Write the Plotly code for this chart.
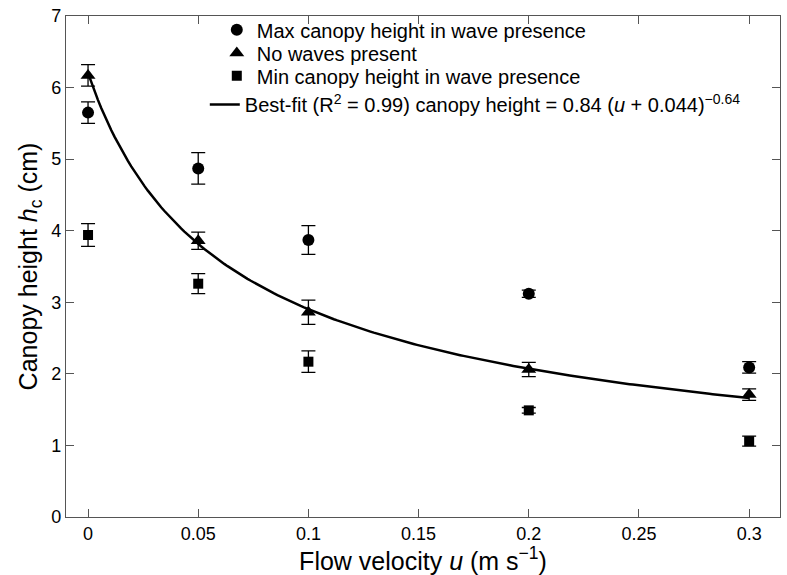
import numpy as np
import plotly.graph_objects as go

u = [0, 0.05, 0.1, 0.2, 0.3]
max_h = [5.65, 4.87, 3.87, 3.12, 2.09]
max_err = [0.15, 0.22, 0.20, 0.05, 0.08]
nowave_h = [6.17, 3.86, 2.86, 2.06, 1.71]
nowave_err = [0.15, 0.12, 0.17, 0.10, 0.08]
min_h = [3.94, 3.26, 2.17, 1.49, 1.06]
min_err = [0.16, 0.14, 0.15, 0.04, 0.07]

# best-fit parameters stated in legend: h = a (u + b)^c
fit_a, fit_b, fit_c = 0.84, 0.044, -0.64
u_fit = np.linspace(0, 0.3, 200)
h_fit = fit_a * (u_fit + fit_b) ** fit_c

xticks = [0, 0.05, 0.1, 0.15, 0.2, 0.25, 0.3]
xticklabels = ["0", "0.05", "0.1", "0.15", "0.2", "0.25", "0.3"]
yticks = [0, 1, 2, 3, 4, 5, 6, 7]

FONT = "Liberation Sans, Arial, sans-serif"
LEG_FONT = dict(family=FONT, size=20, color="black")

def err(e):
    return dict(type="data", array=e, visible=True, color="black", thickness=1.3, width=7)

fig = go.Figure()
fig.add_trace(go.Scatter(x=u, y=max_h, mode="markers", name="Max canopy height in wave presence",
                         marker=dict(symbol="circle", size=12, color="black"), error_y=err(max_err),
                         legend="legend"))
fig.add_trace(go.Scatter(x=u, y=nowave_h, mode="markers", name="No waves present",
                         marker=dict(symbol="triangle-up", size=13, color="black"), error_y=err(nowave_err),
                         legend="legend2"))
fig.add_trace(go.Scatter(x=u, y=min_h, mode="markers", name="Min canopy height in wave presence",
                         marker=dict(symbol="square", size=10, color="black"), error_y=err(min_err),
                         legend="legend3"))
fig.add_trace(go.Scatter(x=u_fit, y=h_fit, mode="lines",
                         name="Best-fit (R<sup>2</sup> = 0.99) canopy height = 0.84 (<i>u</i> + 0.044)<sup>\u22120.64</sup>",
                         line=dict(color="black", width=2.5), legend="legend4"))

axis_common = dict(showline=True, linecolor="#555555", linewidth=1.2, mirror="ticks",
                   ticks="inside", ticklen=8, tickcolor="#555555", tickwidth=1,
                   showgrid=False, zeroline=False,
                   tickfont=dict(family=FONT, size=18, color="black"))

def leg(x, y):
    return dict(x=x, y=y, xanchor="left", yanchor="middle", bgcolor="rgba(0,0,0,0)",
                font=LEG_FONT, itemwidth=30, tracegroupgap=0)

fig.update_layout(
    width=787, height=575,
    margin=dict(l=66, r=6, t=10, b=58),
    plot_bgcolor="white", paper_bgcolor="white",
    font=dict(family=FONT, color="black"),
    xaxis=dict(range=[-0.01, 0.314], tickvals=xticks, ticktext=xticklabels,
               title=dict(text="Flow velocity <i>u</i> (m s<sup>\u22121</sup>)", font=dict(family=FONT, size=25), standoff=3),
               **axis_common),
    yaxis=dict(range=[0, 7], tickvals=yticks,
               title=dict(text="Canopy height <i>h</i><sub>c</sub> (cm)", font=dict(family=FONT, size=25), standoff=6),
               **axis_common),
    legend=leg(0.2112, 0.9724),
    legend2=leg(0.2112, 0.9261),
    legend3=leg(0.2112, 0.8807),
    legend4=leg(0.1944, 0.8235),
    showlegend=True,
)

fig.write_html("out.html")
